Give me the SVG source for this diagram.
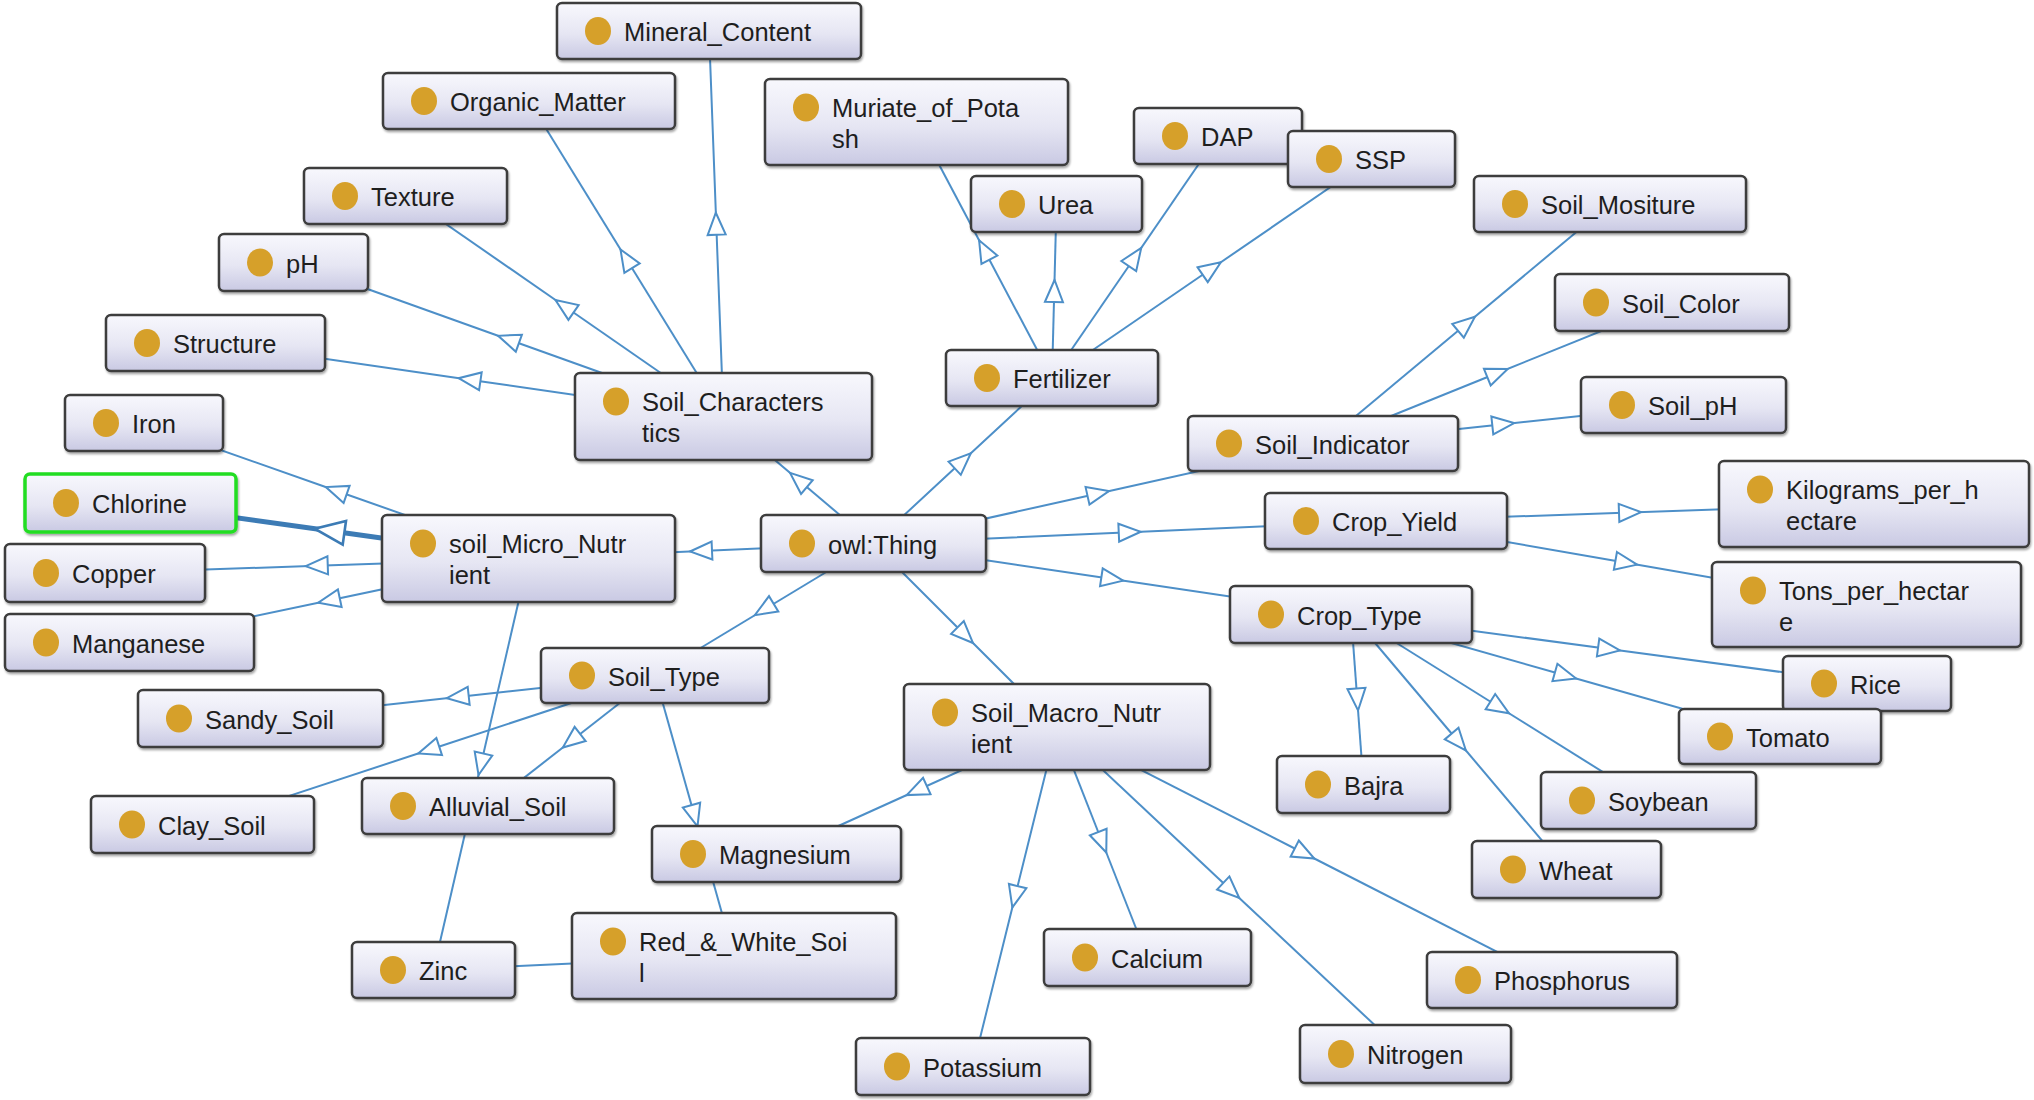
<svg xmlns="http://www.w3.org/2000/svg" width="2034" height="1100" viewBox="0 0 2034 1100">
  <defs>
    <linearGradient id="boxFill" x1="0" y1="0" x2="0" y2="1">
      <stop offset="0" stop-color="#f8f8fd"/>
      <stop offset="0.55" stop-color="#e6e6f3"/>
      <stop offset="1" stop-color="#c9c9e3"/>
    </linearGradient>
    <filter id="shadow" x="-5%" y="-10%" width="115%" height="135%">
      <feDropShadow dx="1" dy="2" stdDeviation="1.2" flood-color="#000" flood-opacity="0.35"/>
    </filter>
    <!-- hollow subclass triangle, sits at the middle vertex of each connector -->
    <marker id="tri" viewBox="0 0 22 18" refX="11" refY="9" markerWidth="22" markerHeight="18" markerUnits="userSpaceOnUse" orient="auto" overflow="visible">
      <path d="M0,0 L22,9 L0,18 Z" fill="#ffffff" stroke="#4d8fc8" stroke-width="2" stroke-linejoin="miter"/>
    </marker>
    <!-- larger triangle for the highlighted connector -->
    <marker id="triSel" viewBox="0 0 30 24" refX="15" refY="12" markerWidth="30" markerHeight="24" markerUnits="userSpaceOnUse" orient="auto" overflow="visible">
      <path d="M0,0 L30,12 L0,24 Z" fill="#ffffff" stroke="#3c7bb5" stroke-width="2.6" stroke-linejoin="miter"/>
    </marker>
  </defs>
  <style>
    .edge { fill: none; stroke: #4d8fc8; stroke-width: 2; marker-mid: url(#tri); }
    .edge.sel { stroke: #3c7bb5; stroke-width: 5; marker-mid: url(#triSel); }
    .edge.plain { marker-mid: none; }
    .box { fill: url(#boxFill); stroke: #3c3c3c; stroke-width: 2.5; filter: url(#shadow); }
    .box.sel { stroke: #22dd22; stroke-width: 3.5; }
    .dot { fill: #d6a02a; }
    .lbl { font-family: "Liberation Sans", Arial, sans-serif; font-size: 25.5px; fill: #1e1e1e; }
  </style>
  <rect width="2034" height="1100" fill="#ffffff"/>

  <g id="edges">
    <!-- owl:Thing -->
    <polyline class="edge" points="873.5,543.5 798.5,480 723.5,416.5"/>
    <polyline class="edge" points="873.5,543.5 962.75,460.75 1052,378"/>
    <polyline class="edge" points="873.5,543.5 1098.25,493.5 1323,443.5"/>
    <polyline class="edge" points="873.5,543.5 1129.75,532.25 1386,521"/>
    <polyline class="edge" points="873.5,543.5 1112.25,579 1351,614.5"/>
    <polyline class="edge" points="873.5,543.5 965.25,635.25 1057,727"/>
    <polyline class="edge" points="873.5,543.5 764.25,609.5 655,675.5"/>
    <polyline class="edge" points="873.5,543.5 701,551 528.5,558.5"/>
    <!-- Soil_Characteristics -->
    <polyline class="edge" points="723.5,416.5 716.25,223.75 709,31"/>
    <polyline class="edge" points="723.5,416.5 626.25,258.75 529,101"/>
    <polyline class="edge" points="723.5,416.5 564.5,306.25 405.5,196"/>
    <polyline class="edge" points="723.5,416.5 508.5,339.5 293.5,262.5"/>
    <polyline class="edge" points="723.5,416.5 469.5,379.75 215.5,343"/>
    <!-- Fertilizer -->
    <polyline class="edge" points="1052,378 984.25,250 916.5,122"/>
    <polyline class="edge" points="1052,378 1054.25,291 1056.5,204"/>
    <polyline class="edge" points="1052,378 1135,257 1218,136"/>
    <polyline class="edge" points="1052,378 1211.75,268.5 1371.5,159"/>
    <!-- Soil_Indicator -->
    <polyline class="edge" points="1323,443.5 1466.5,323.75 1610,204"/>
    <polyline class="edge" points="1323,443.5 1497.5,373 1672,302.5"/>
    <polyline class="edge" points="1323,443.5 1503.25,424.25 1683.5,405"/>
    <!-- Crop_Yield -->
    <polyline class="edge" points="1386,521 1630,512.5 1874,504"/>
    <polyline class="edge" points="1386,521 1626.25,562.75 1866.5,604.5"/>
    <!-- Crop_Type -->
    <polyline class="edge" points="1351,614.5 1609,649 1867,683.5"/>
    <polyline class="edge" points="1351,614.5 1565.5,675.5 1780,736.5"/>
    <polyline class="edge" points="1351,614.5 1499.75,707.5 1648.5,800.5"/>
    <polyline class="edge" points="1351,614.5 1458.75,742 1566.5,869.5"/>
    <polyline class="edge" points="1351,614.5 1357.25,699.5 1363.5,784.5"/>
    <!-- Soil_Macro_Nutrient -->
    <polyline class="edge" points="1057,727 916.75,790.5 776.5,854"/>
    <polyline class="edge" points="1057,727 1015,896.75 973,1066.5"/>
    <polyline class="edge" points="1057,727 1102.25,842.25 1147.5,957.5"/>
    <polyline class="edge" points="1057,727 1231.25,890.5 1405.5,1054"/>
    <polyline class="edge" points="1057,727 1304.5,853.5 1552,980"/>
    <!-- soil_Micro_Nutrient -->
    <polyline class="edge" points="528.5,558.5 336.25,490.75 144,423"/>
    <polyline class="edge sel" points="528.5,558.5 329.5,530.75 130.5,503"/>
    <polyline class="edge" points="528.5,558.5 316.75,565.75 105,573"/>
    <polyline class="edge" points="528.5,558.5 329,600.5 129.5,642.5"/>
    <polyline class="edge" points="528.5,558.5 481,764.25 433.5,970"/>
    <!-- Soil_Type -->
    <polyline class="edge" points="655,675.5 457.75,697 260.5,718.5"/>
    <polyline class="edge" points="655,675.5 428.75,750 202.5,824.5"/>
    <polyline class="edge" points="655,675.5 571.5,740.75 488,806"/>
    <polyline class="edge" points="655,675.5 694.5,815.75 734,956"/>
    <!-- Zinc / Red_&_White_Soil -->
    <polyline class="edge plain" points="433.5,970 734,956"/>
  </g>

  <g id="n-Mineral_Content"><rect class="box" x="557" y="3" width="304" height="56" rx="5"/><ellipse class="dot" cx="598" cy="31" rx="13" ry="14"/><text class="lbl" x="624" y="41">Mineral_Content</text></g>
  <g id="n-Organic_Matter"><rect class="box" x="383" y="73" width="292" height="56" rx="5"/><ellipse class="dot" cx="424" cy="101" rx="13" ry="14"/><text class="lbl" x="450" y="111">Organic_Matter</text></g>
  <g id="n-Texture"><rect class="box" x="304" y="168" width="203" height="56" rx="5"/><ellipse class="dot" cx="345" cy="196" rx="13" ry="14"/><text class="lbl" x="371" y="206">Texture</text></g>
  <g id="n-pH"><rect class="box" x="219" y="234" width="149" height="57" rx="5"/><ellipse class="dot" cx="260" cy="262.5" rx="13" ry="14"/><text class="lbl" x="286" y="272.5">pH</text></g>
  <g id="n-Structure"><rect class="box" x="106" y="315" width="219" height="56" rx="5"/><ellipse class="dot" cx="147" cy="343" rx="13" ry="14"/><text class="lbl" x="173" y="353">Structure</text></g>
  <g id="n-Soil_Characteristics"><rect class="box" x="575" y="373" width="297" height="87" rx="5"/><ellipse class="dot" cx="616" cy="401.5" rx="13" ry="14"/><text class="lbl" x="642" y="411">Soil_Characters</text><text class="lbl" x="642" y="442">tics</text></g>
  <g id="n-Muriate_of_Potash"><rect class="box" x="765" y="79" width="303" height="86" rx="5"/><ellipse class="dot" cx="806" cy="107.5" rx="13" ry="14"/><text class="lbl" x="832" y="117">Muriate_of_Pota</text><text class="lbl" x="832" y="148">sh</text></g>
  <g id="n-Urea"><rect class="box" x="971" y="176" width="171" height="56" rx="5"/><ellipse class="dot" cx="1012" cy="204" rx="13" ry="14"/><text class="lbl" x="1038" y="214">Urea</text></g>
  <g id="n-DAP"><rect class="box" x="1134" y="108" width="168" height="56" rx="5"/><ellipse class="dot" cx="1175" cy="136" rx="13" ry="14"/><text class="lbl" x="1201" y="146">DAP</text></g>
  <g id="n-SSP"><rect class="box" x="1288" y="131" width="167" height="56" rx="5"/><ellipse class="dot" cx="1329" cy="159" rx="13" ry="14"/><text class="lbl" x="1355" y="169">SSP</text></g>
  <g id="n-Fertilizer"><rect class="box" x="946" y="350" width="212" height="56" rx="5"/><ellipse class="dot" cx="987" cy="378" rx="13" ry="14"/><text class="lbl" x="1013" y="388">Fertilizer</text></g>
  <g id="n-Soil_Mositure"><rect class="box" x="1474" y="176" width="272" height="56" rx="5"/><ellipse class="dot" cx="1515" cy="204" rx="13" ry="14"/><text class="lbl" x="1541" y="214">Soil_Mositure</text></g>
  <g id="n-Soil_Color"><rect class="box" x="1555" y="274" width="234" height="57" rx="5"/><ellipse class="dot" cx="1596" cy="302.5" rx="13" ry="14"/><text class="lbl" x="1622" y="312.5">Soil_Color</text></g>
  <g id="n-Soil_pH"><rect class="box" x="1581" y="377" width="205" height="56" rx="5"/><ellipse class="dot" cx="1622" cy="405" rx="13" ry="14"/><text class="lbl" x="1648" y="415">Soil_pH</text></g>
  <g id="n-Soil_Indicator"><rect class="box" x="1188" y="416" width="270" height="55" rx="5"/><ellipse class="dot" cx="1229" cy="443.5" rx="13" ry="14"/><text class="lbl" x="1255" y="453.5">Soil_Indicator</text></g>
  <g id="n-Crop_Yield"><rect class="box" x="1265" y="493" width="242" height="56" rx="5"/><ellipse class="dot" cx="1306" cy="521" rx="13" ry="14"/><text class="lbl" x="1332" y="531">Crop_Yield</text></g>
  <g id="n-Kilograms_per_hectare"><rect class="box" x="1719" y="461" width="310" height="86" rx="5"/><ellipse class="dot" cx="1760" cy="489.5" rx="13" ry="14"/><text class="lbl" x="1786" y="499">Kilograms_per_h</text><text class="lbl" x="1786" y="530">ectare</text></g>
  <g id="n-Tons_per_hectare"><rect class="box" x="1712" y="562" width="309" height="85" rx="5"/><ellipse class="dot" cx="1753" cy="590.5" rx="13" ry="14"/><text class="lbl" x="1779" y="600">Tons_per_hectar</text><text class="lbl" x="1779" y="631">e</text></g>
  <g id="n-Crop_Type"><rect class="box" x="1230" y="586" width="242" height="57" rx="5"/><ellipse class="dot" cx="1271" cy="614.5" rx="13" ry="14"/><text class="lbl" x="1297" y="624.5">Crop_Type</text></g>
  <g id="n-Rice"><rect class="box" x="1783" y="656" width="168" height="55" rx="5"/><ellipse class="dot" cx="1824" cy="683.5" rx="13" ry="14"/><text class="lbl" x="1850" y="693.5">Rice</text></g>
  <g id="n-Tomato"><rect class="box" x="1679" y="709" width="202" height="55" rx="5"/><ellipse class="dot" cx="1720" cy="736.5" rx="13" ry="14"/><text class="lbl" x="1746" y="746.5">Tomato</text></g>
  <g id="n-Soybean"><rect class="box" x="1541" y="772" width="215" height="57" rx="5"/><ellipse class="dot" cx="1582" cy="800.5" rx="13" ry="14"/><text class="lbl" x="1608" y="810.5">Soybean</text></g>
  <g id="n-Wheat"><rect class="box" x="1472" y="841" width="189" height="57" rx="5"/><ellipse class="dot" cx="1513" cy="869.5" rx="13" ry="14"/><text class="lbl" x="1539" y="879.5">Wheat</text></g>
  <g id="n-Bajra"><rect class="box" x="1277" y="756" width="173" height="57" rx="5"/><ellipse class="dot" cx="1318" cy="784.5" rx="13" ry="14"/><text class="lbl" x="1344" y="794.5">Bajra</text></g>
  <g id="n-Calcium"><rect class="box" x="1044" y="929" width="207" height="57" rx="5"/><ellipse class="dot" cx="1085" cy="957.5" rx="13" ry="14"/><text class="lbl" x="1111" y="967.5">Calcium</text></g>
  <g id="n-Phosphorus"><rect class="box" x="1427" y="952" width="250" height="56" rx="5"/><ellipse class="dot" cx="1468" cy="980" rx="13" ry="14"/><text class="lbl" x="1494" y="990">Phosphorus</text></g>
  <g id="n-Nitrogen"><rect class="box" x="1300" y="1025" width="211" height="58" rx="5"/><ellipse class="dot" cx="1341" cy="1054" rx="13" ry="14"/><text class="lbl" x="1367" y="1064">Nitrogen</text></g>
  <g id="n-Potassium"><rect class="box" x="856" y="1038" width="234" height="57" rx="5"/><ellipse class="dot" cx="897" cy="1066.5" rx="13" ry="14"/><text class="lbl" x="923" y="1076.5">Potassium</text></g>
  <g id="n-Soil_Macro_Nutrient"><rect class="box" x="904" y="684" width="306" height="86" rx="5"/><ellipse class="dot" cx="945" cy="712.5" rx="13" ry="14"/><text class="lbl" x="971" y="722">Soil_Macro_Nutr</text><text class="lbl" x="971" y="753">ient</text></g>
  <g id="n-owl_Thing"><rect class="box" x="761" y="515" width="225" height="57" rx="5"/><ellipse class="dot" cx="802" cy="543.5" rx="13" ry="14"/><text class="lbl" x="828" y="553.5">owl:Thing</text></g>
  <g id="n-soil_Micro_Nutrient"><rect class="box" x="382" y="515" width="293" height="87" rx="5"/><ellipse class="dot" cx="423" cy="543.5" rx="13" ry="14"/><text class="lbl" x="449" y="553">soil_Micro_Nutr</text><text class="lbl" x="449" y="584">ient</text></g>
  <g id="n-Iron"><rect class="box" x="65" y="395" width="158" height="56" rx="5"/><ellipse class="dot" cx="106" cy="423" rx="13" ry="14"/><text class="lbl" x="132" y="433">Iron</text></g>
  <g id="n-Chlorine"><rect class="box sel" x="25" y="474" width="211" height="58" rx="5"/><ellipse class="dot" cx="66" cy="503" rx="13" ry="14"/><text class="lbl" x="92" y="513">Chlorine</text></g>
  <g id="n-Copper"><rect class="box" x="5" y="544" width="200" height="58" rx="5"/><ellipse class="dot" cx="46" cy="573" rx="13" ry="14"/><text class="lbl" x="72" y="583">Copper</text></g>
  <g id="n-Manganese"><rect class="box" x="5" y="614" width="249" height="57" rx="5"/><ellipse class="dot" cx="46" cy="642.5" rx="13" ry="14"/><text class="lbl" x="72" y="652.5">Manganese</text></g>
  <g id="n-Sandy_Soil"><rect class="box" x="138" y="690" width="245" height="57" rx="5"/><ellipse class="dot" cx="179" cy="718.5" rx="13" ry="14"/><text class="lbl" x="205" y="728.5">Sandy_Soil</text></g>
  <g id="n-Soil_Type"><rect class="box" x="541" y="648" width="228" height="55" rx="5"/><ellipse class="dot" cx="582" cy="675.5" rx="13" ry="14"/><text class="lbl" x="608" y="685.5">Soil_Type</text></g>
  <g id="n-Clay_Soil"><rect class="box" x="91" y="796" width="223" height="57" rx="5"/><ellipse class="dot" cx="132" cy="824.5" rx="13" ry="14"/><text class="lbl" x="158" y="834.5">Clay_Soil</text></g>
  <g id="n-Alluvial_Soil"><rect class="box" x="362" y="778" width="252" height="56" rx="5"/><ellipse class="dot" cx="403" cy="806" rx="13" ry="14"/><text class="lbl" x="429" y="816">Alluvial_Soil</text></g>
  <g id="n-Magnesium"><rect class="box" x="652" y="826" width="249" height="56" rx="5"/><ellipse class="dot" cx="693" cy="854" rx="13" ry="14"/><text class="lbl" x="719" y="864">Magnesium</text></g>
  <g id="n-Zinc"><rect class="box" x="352" y="942" width="163" height="56" rx="5"/><ellipse class="dot" cx="393" cy="970" rx="13" ry="14"/><text class="lbl" x="419" y="980">Zinc</text></g>
  <g id="n-Red_White_Soil"><rect class="box" x="572" y="913" width="324" height="86" rx="5"/><ellipse class="dot" cx="613" cy="941.5" rx="13" ry="14"/><text class="lbl" x="639" y="951">Red_&amp;_White_Soi</text><text class="lbl" x="639" y="982">l</text></g>
</svg>
